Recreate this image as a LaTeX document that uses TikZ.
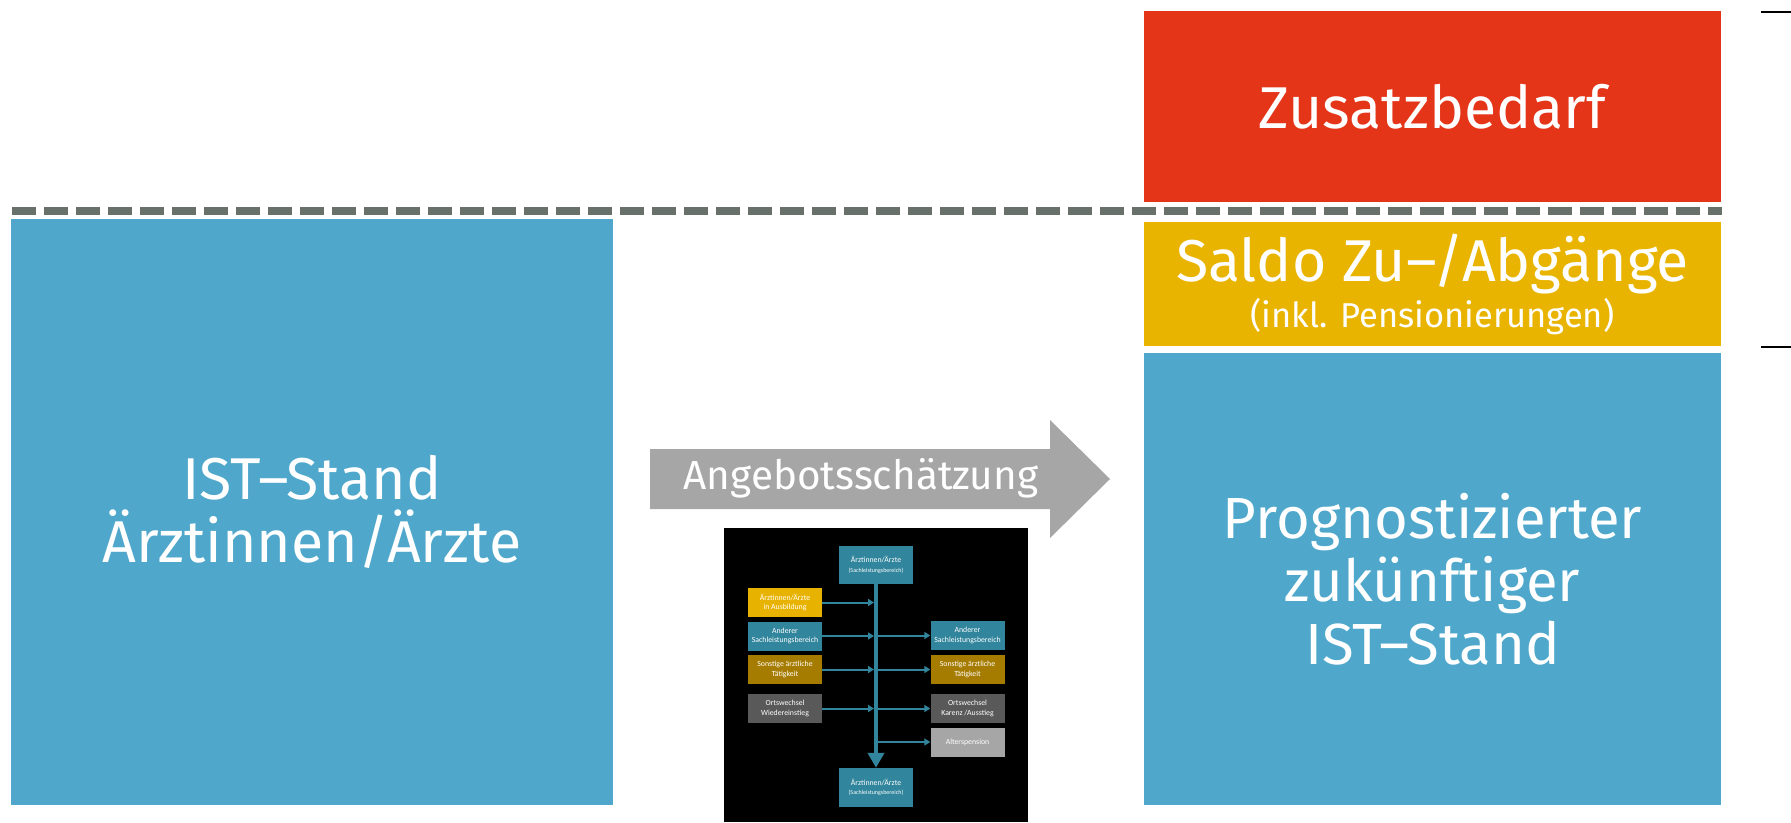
\documentclass[tikz,border=0pt]{standalone}
\usepackage{fontspec}
\setmainfont{Fira Sans}
\newfontfamily\insetfont{Carlito}
\usetikzlibrary{arrows.meta}

\definecolor{istblue}{RGB}{79,168,203}
\definecolor{zusred}{RGB}{229,53,25}
\definecolor{saldoyel}{RGB}{233,180,0}
\definecolor{dashgray}{RGB}{104,113,105}
\definecolor{arrowgray}{RGB}{166,166,166}
\definecolor{inblue}{RGB}{49,133,156}
\definecolor{inyel}{RGB}{232,179,0}
\definecolor{ingold}{RGB}{166,124,0}
\definecolor{indark}{RGB}{89,89,89}
\definecolor{inlight}{RGB}{166,166,166}

\tikzset{
  bigbox/.style={inner sep=0pt, align=center, text=white,
    font=\fontsize{59}{63}\selectfont},
  dashline/.style={draw=dashgray, line width=8pt, dash pattern=on 24pt off 8pt},
  tick/.style={draw=black, line width=2.3pt},
  sbox/.style={inner sep=0pt, align=center, text=white,
    minimum width=74pt, minimum height=29pt,
    font=\insetfont\fontsize{7.8}{9.4}\selectfont},
  stem/.style={draw=inblue, line width=4pt, -{Triangle[width=16pt,length=15pt]}},
  flow/.style={draw=inblue, line width=2pt, -{Triangle[width=7pt,length=6pt]}},
}

\begin{document}
\begin{tikzpicture}[x=1pt,y=-1pt]
\useasboundingbox (0,0) rectangle (1791,822);

% main blocks
\node[bigbox, fill=istblue, minimum width=602pt, minimum height=586pt] (ist) at (312,512)
  {IST–Stand\\Ärztinnen/Ärzte};
\node[bigbox, fill=zusred, minimum width=577pt, minimum height=191pt] (zus) at (1432.5,106.5)
  {Zusatzbedarf};
\node[bigbox, fill=saldoyel, minimum width=577pt, minimum height=124pt,
  font=\fontsize{34.5}{46}\selectfont] (saldo) at (1432.5,284)
  {{\fontsize{59}{63}\selectfont Saldo Zu–/Abgänge}\\(inkl. Pensionierungen)};
\node[bigbox, fill=istblue, minimum width=577pt, minimum height=452pt,
  font=\fontsize{58}{63}\selectfont] (prog) at (1432.5,579)
  {Prognostizierter\\zukünftiger\\IST–Stand};

% threshold line
\coordinate (dl) at (12,211);
\coordinate (dr) at (1722,211);
\draw[dashline] (dl) -- (dr);

% scale ticks at the right edge
\coordinate (t1a) at (1761,12);  \coordinate (t1b) at (1791,12);
\coordinate (t2a) at (1761,347); \coordinate (t2b) at (1791,347);
\draw[tick] (t1a) -- (t1b);
\draw[tick] (t2a) -- (t2b);

% estimation arrow
\fill[arrowgray] (650,449) -- (1050,449) -- (1050,420) -- (1110,479)
  -- (1050,538) -- (1050,509) -- (650,509) -- cycle;
\node[text=white, inner sep=0pt, font=\fontsize{40.5}{44}\selectfont, anchor=base]
  (angebot) at (861,489) {Angebotsschätzung};

% flow model inset
\node[fill=black, inner sep=0pt, minimum width=304pt, minimum height=294pt] (inset) at (876,675) {};

\node[sbox, fill=inblue, minimum height=38pt] (top) at (876,565)
  {Ärztinnen/Ärzte\\{\insetfont\fontsize{6}{7}\selectfont(Sachleistungsbereich)}};
\node[sbox, fill=inblue, minimum height=39pt] (bot) at (876,787.5)
  {Ärztinnen/Ärzte\\{\insetfont\fontsize{6}{7}\selectfont(Sachleistungsbereich)}};

\node[sbox, fill=inyel]  (l1) at (785,602.5) {Ärztinnen/Ärzte\\in Ausbildung};
\node[sbox, fill=inblue] (l2) at (785,636)   {Anderer\\Sachleistungsbereich};
\node[sbox, fill=ingold] (l3) at (785,669.5) {Sonstige ärztliche\\Tätigkeit};
\node[sbox, fill=indark] (l4) at (785,708.5) {Ortswechsel\\Wiedereinstieg};

\node[sbox, fill=inblue]  (r1) at (967.5,635.5) {Anderer\\Sachleistungsbereich};
\node[sbox, fill=ingold]  (r2) at (967.5,669.5) {Sonstige ärztliche\\Tätigkeit};
\node[sbox, fill=indark]  (r3) at (967.5,708.5) {Ortswechsel\\Karenz /Ausstieg};
\node[sbox, fill=inlight] (r4) at (967.5,742)   {Alterspension};

\draw[stem] (top.south) -- (bot.north);

\foreach \b in {l1,l2,l3,l4}
  \draw[flow, shorten >=2pt] (\b.east) -- (\b.east -| top.center);
\foreach \b in {r1,r2,r3,r4}
  \draw[flow] (\b.west -| top.center) -- (\b.west);
\end{tikzpicture}
\end{document}
